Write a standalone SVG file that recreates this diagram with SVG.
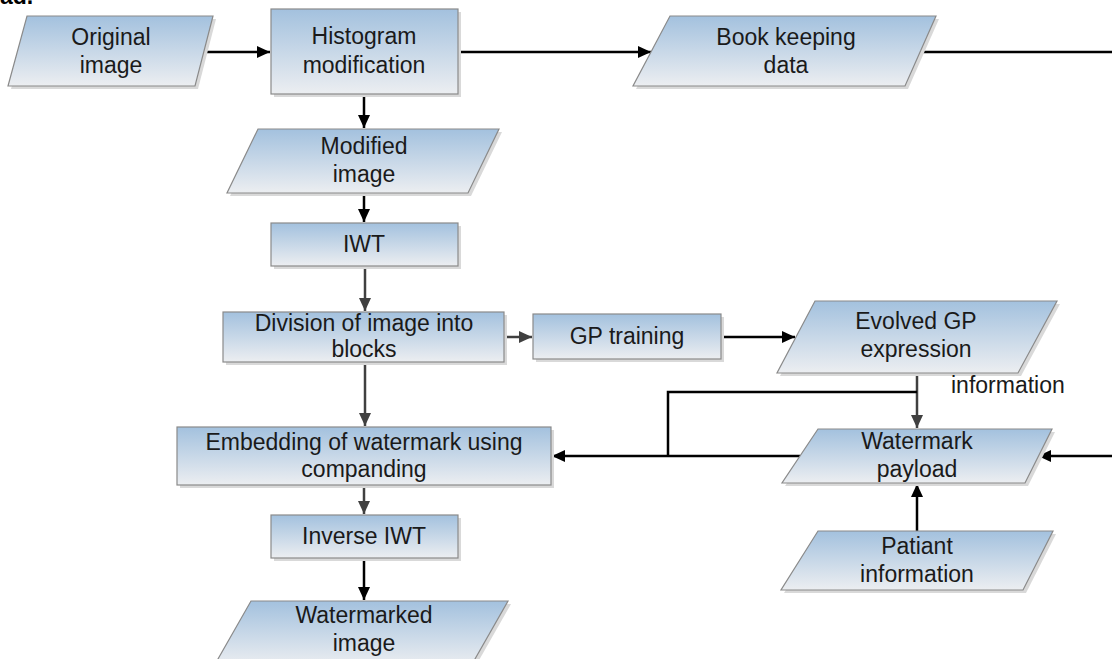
<svg xmlns="http://www.w3.org/2000/svg" width="1112" height="659" viewBox="0 0 1112 659">
<style>
.shape{fill:url(#g);stroke:#8a8a8a;stroke-width:1.2}
.sh{fill:#d9d9d9}
text{font-family:"Liberation Sans",Arial,sans-serif;font-size:23px;fill:#1a1a1a;text-anchor:middle}
.k{fill:none;stroke:#000;stroke-width:2.5}
.d{fill:none;stroke:#404040;stroke-width:2.5}
</style>
<defs>
<linearGradient id="g" x1="0" y1="0" x2="0" y2="1">
<stop offset="0" stop-color="#a3c1de"/>
<stop offset="1" stop-color="#eceef1"/>
</linearGradient>
<marker id="ak" markerWidth="13" markerHeight="12" refX="13" refY="6" orient="auto" markerUnits="userSpaceOnUse"><path d="M0,0 L13,6 L0,12 z" fill="#000"/></marker>
<marker id="ad" markerWidth="13" markerHeight="12" refX="13" refY="6" orient="auto" markerUnits="userSpaceOnUse"><path d="M0,0 L13,6 L0,12 z" fill="#404040"/></marker>
</defs>
<rect width="1112" height="659" fill="#fff"/>
<text x="0" y="4" style="text-anchor:start;font-weight:bold;fill:#000">ad.</text>

<g id="connectors">
<path class="k" d="M195,52 L270,52" marker-end="url(#ak)"/>
<path class="k" d="M458,52 L651,52" marker-end="url(#ak)"/>
<path class="k" d="M919,52 L1112,52"/>
<path class="k" d="M364,94 L364,128" marker-end="url(#ak)"/>
<path class="k" d="M364,193 L364,222" marker-end="url(#ak)"/>
<path class="d" d="M365,266 L365,311" marker-end="url(#ad)"/>
<path class="d" d="M504,337 L532,337" marker-end="url(#ad)"/>
<path class="k" d="M721,337 L795,337" marker-end="url(#ak)"/>
<path class="d" d="M365,362 L365,426" marker-end="url(#ad)"/>
<path class="d" d="M364,485 L364,514" marker-end="url(#ad)"/>
<path class="k" d="M364,558 L364,600" marker-end="url(#ak)"/>
<path class="d" d="M917,373 L917,428" marker-end="url(#ad)"/>
<path class="k" d="M917,392 L668,392 L668,456"/>
<path class="k" d="M800,456 L552,456" marker-end="url(#ak)"/>
<path class="k" d="M1112,456 L1038,456" marker-end="url(#ak)"/>
<path class="k" d="M917,531 L917,484" marker-end="url(#ak)"/>
</g>

<g id="original-image">
<polygon class="sh" points="30,19 216,19 198,89 11,89"/>
<polygon class="shape" points="27,16 213,16 195,86 8,86"/>
<text x="111" y="45">Original</text>
<text x="111" y="73">image</text>
</g>

<g id="histogram-modification">
<rect class="sh" x="274" y="12" width="187" height="85"/>
<rect class="shape" x="271" y="9" width="187" height="85"/>
<text x="364" y="44">Histogram</text>
<text x="364" y="73">modification</text>
</g>

<g id="book-keeping-data">
<polygon class="sh" points="673,19 939,19 908,89 636,89"/>
<polygon class="shape" points="670,16 936,16 905,86 633,86"/>
<text x="786" y="45">Book keeping</text>
<text x="786" y="73">data</text>
</g>

<g id="modified-image">
<polygon class="sh" points="261,132 502,132 471,196 230,196"/>
<polygon class="shape" points="258,129 499,129 468,193 227,193"/>
<text x="364" y="154">Modified</text>
<text x="364" y="182">image</text>
</g>

<g id="iwt">
<rect class="sh" x="274" y="226" width="187" height="43"/>
<rect class="shape" x="271" y="223" width="187" height="43"/>
<text x="364" y="252">IWT</text>
</g>

<g id="division">
<rect class="sh" x="226" y="315" width="281" height="50"/>
<rect class="shape" x="223" y="312" width="281" height="50"/>
<text x="364" y="331">Division of image into</text>
<text x="364" y="357">blocks</text>
</g>

<g id="gp-training">
<rect class="sh" x="536" y="317" width="188" height="45"/>
<rect class="shape" x="533" y="314" width="188" height="45"/>
<text x="627" y="344">GP training</text>
</g>

<g id="evolved-gp">
<polygon class="sh" points="818,304 1060,304 1021,376 780,376"/>
<polygon class="shape" points="815,301 1057,301 1018,373 777,373"/>
<text x="916" y="329">Evolved GP</text>
<text x="916" y="357">expression</text>
</g>

<text x="951" y="393" style="text-anchor:start">information</text>

<g id="embedding">
<rect class="sh" x="180" y="430" width="374" height="58"/>
<rect class="shape" x="177" y="427" width="374" height="58"/>
<text x="364" y="450">Embedding of watermark using</text>
<text x="364" y="477">companding</text>
</g>

<g id="watermark-payload">
<polygon class="sh" points="821,432 1055,432 1028,486 785,486"/>
<polygon class="shape" points="818,429 1052,429 1025,483 782,483"/>
<text x="917" y="449">Watermark</text>
<text x="917" y="477">payload</text>
</g>

<g id="inverse-iwt">
<rect class="sh" x="274" y="518" width="187" height="43"/>
<rect class="shape" x="271" y="515" width="187" height="43"/>
<text x="364" y="544">Inverse IWT</text>
</g>

<g id="patiant-information">
<polygon class="sh" points="821,534 1056,534 1026,593 784,593"/>
<polygon class="shape" points="818,531 1053,531 1023,590 781,590"/>
<text x="917" y="554">Patiant</text>
<text x="917" y="582">information</text>
</g>

<g id="watermarked-image">
<polygon class="sh" points="254,604 511,604 474,669 217,669"/>
<polygon class="shape" points="251,601 508,601 471,666 214,666"/>
<text x="364" y="623">Watermarked</text>
<text x="364" y="651">image</text>
</g>
</svg>
